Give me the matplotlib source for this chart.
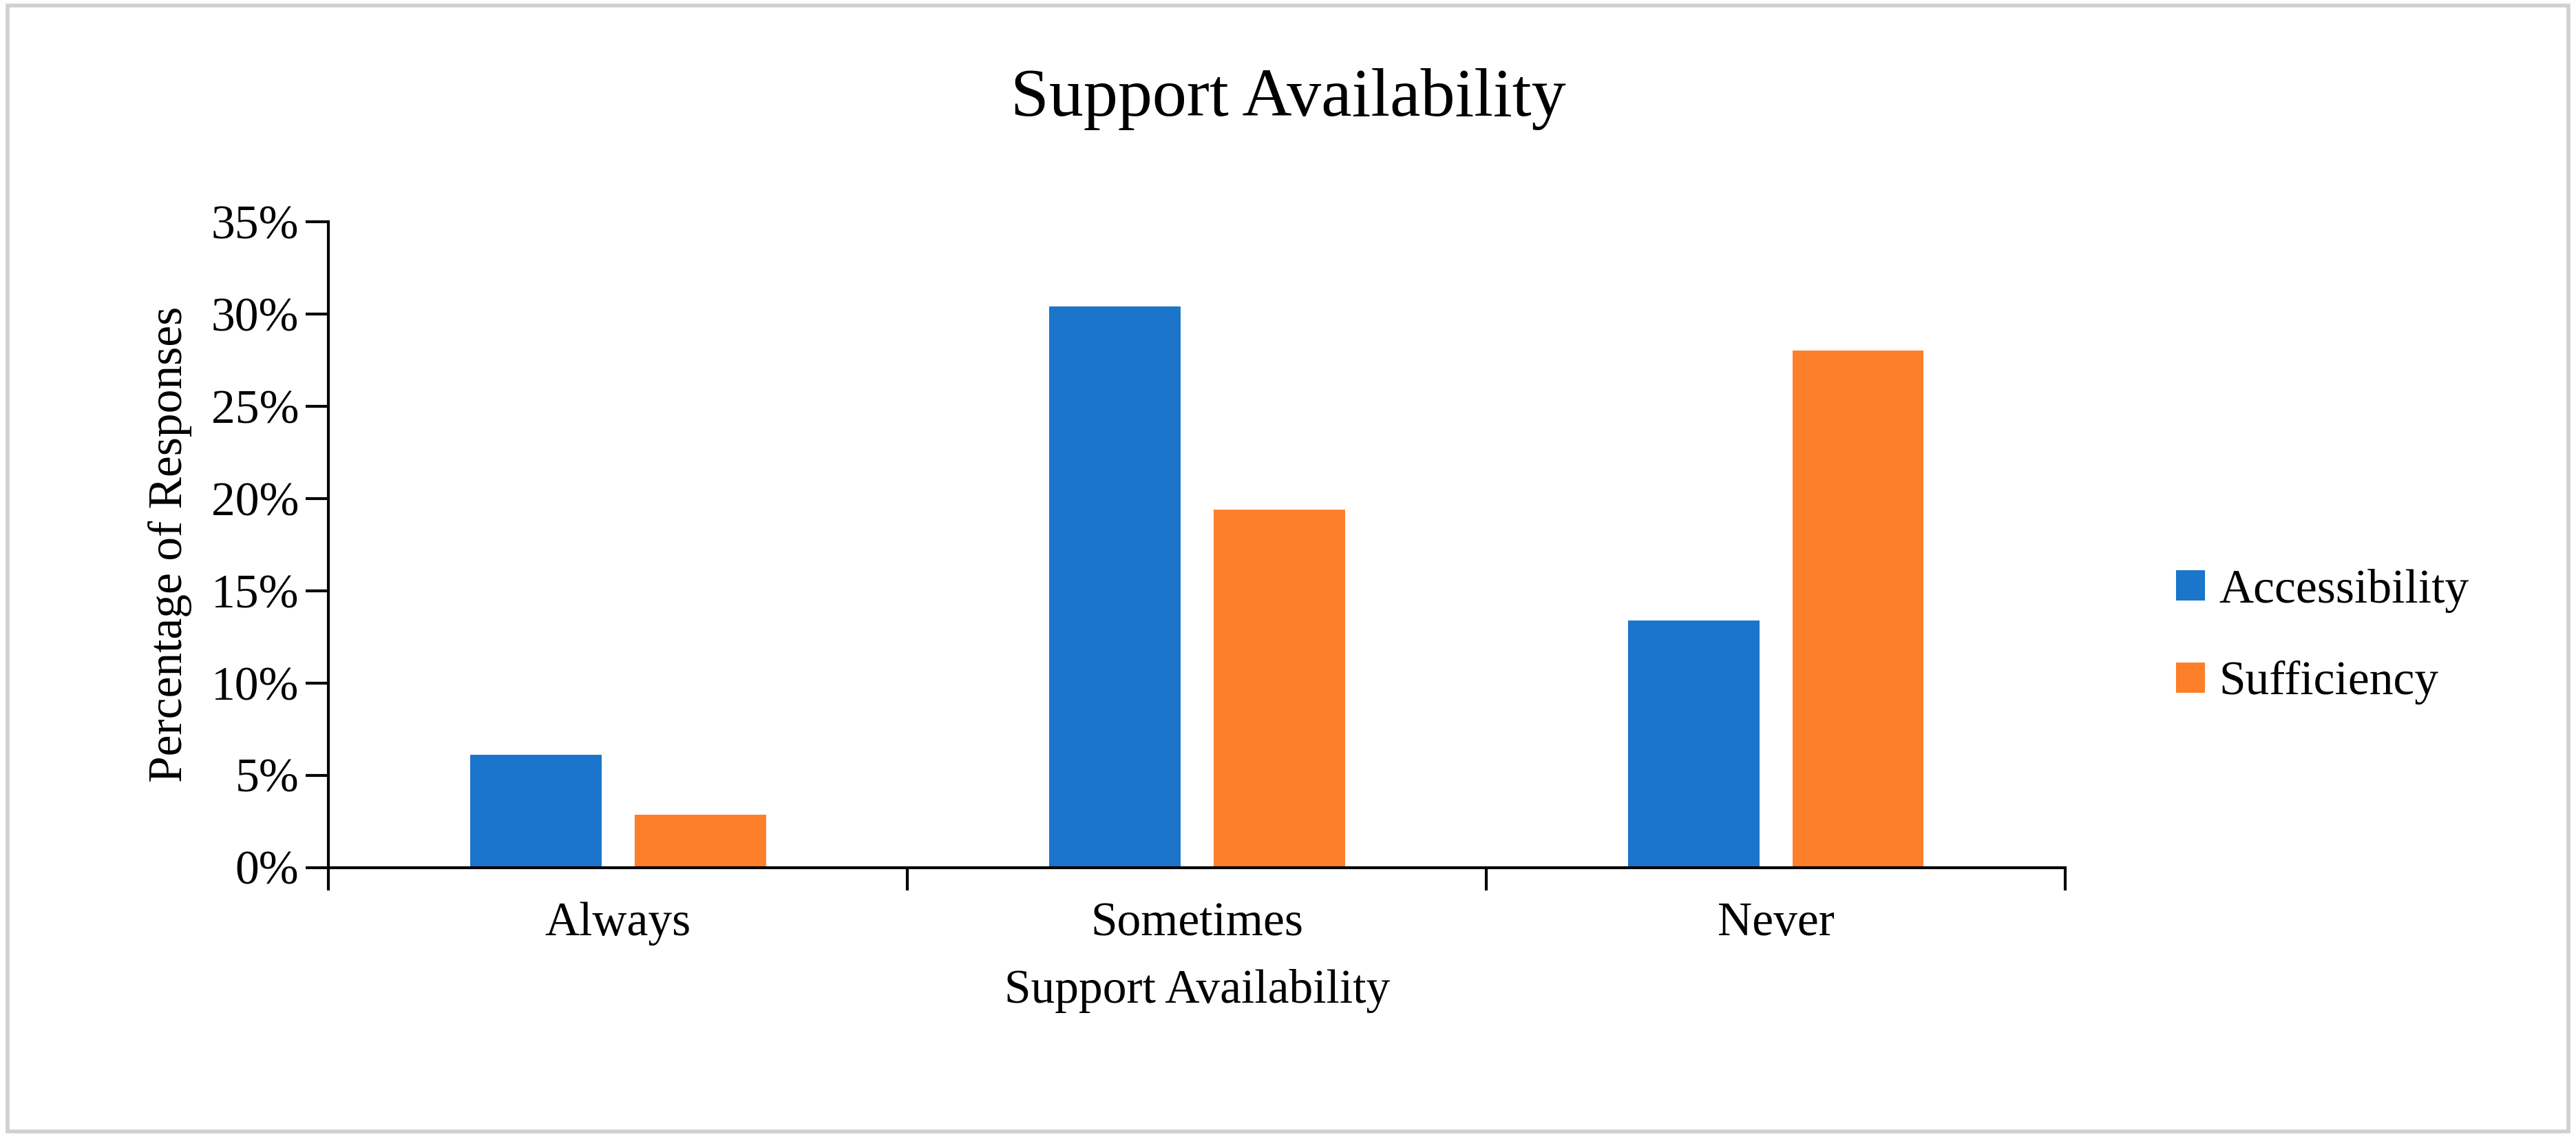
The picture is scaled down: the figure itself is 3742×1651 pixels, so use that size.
import numpy as np
import matplotlib.pyplot as plt
from matplotlib.patches import Rectangle
from matplotlib.ticker import PercentFormatter

plt.rcParams['font.family'] = ['Liberation Serif', 'DejaVu Serif']

# Data
categories = ['Always', 'Sometimes', 'Never']
accessibility = [6.1, 30.4, 13.4]
sufficiency = [2.85, 19.4, 28.0]

fig = plt.figure(figsize=(18.71, 8.255), dpi=200)
ax = fig.add_axes([0.1276, 0.237, 0.6741, 0.568])

x = np.arange(len(categories))
w = 0.227
off = 0.142
ax.bar(x - off, accessibility, w, color='#1a75cb', label='Accessibility')
ax.bar(x + off, sufficiency, w, color='#fe7f2a', label='Sufficiency')

ax.set_xlim(-0.5, 2.5)
ax.set_ylim(0, 35)
ax.set_yticks(np.arange(0, 36, 5))
ax.yaxis.set_major_formatter(PercentFormatter(decimals=0))
ax.set_xticks([-0.5, 0.5, 1.5, 2.5])
ax.set_xticklabels([])
ax.set_xticks(x, minor=True)
ax.set_xticklabels(categories, minor=True)
ax.tick_params(axis='x', which='minor', length=0, labelsize=25, pad=18)
ax.tick_params(axis='x', which='major', length=12, width=1.5, direction='out')
ax.tick_params(axis='y', labelsize=25, length=12, width=1.5, direction='out')
for s in ['top', 'right']:
    ax.spines[s].set_visible(False)
for s in ['left', 'bottom']:
    ax.spines[s].set_linewidth(1.5)

ax.set_xlabel('Support Availability', fontsize=25, labelpad=12)
ax.set_ylabel('Percentage of Responses', fontsize=25, labelpad=10)
fig.suptitle('Support Availability', fontsize=36, y=0.94)

fig.legend(loc='center left', bbox_to_anchor=(0.828, 0.44), frameon=False,
           fontsize=25, handlelength=0.6, handleheight=0.6, handletextpad=0.3,
           labelspacing=1.0)

fig.patches.append(Rectangle((0.003, 0.005), 0.994, 0.99, transform=fig.transFigure,
                             fill=False, edgecolor='#d0d0d0', linewidth=2))

fig.savefig('out.png', dpi=200)
